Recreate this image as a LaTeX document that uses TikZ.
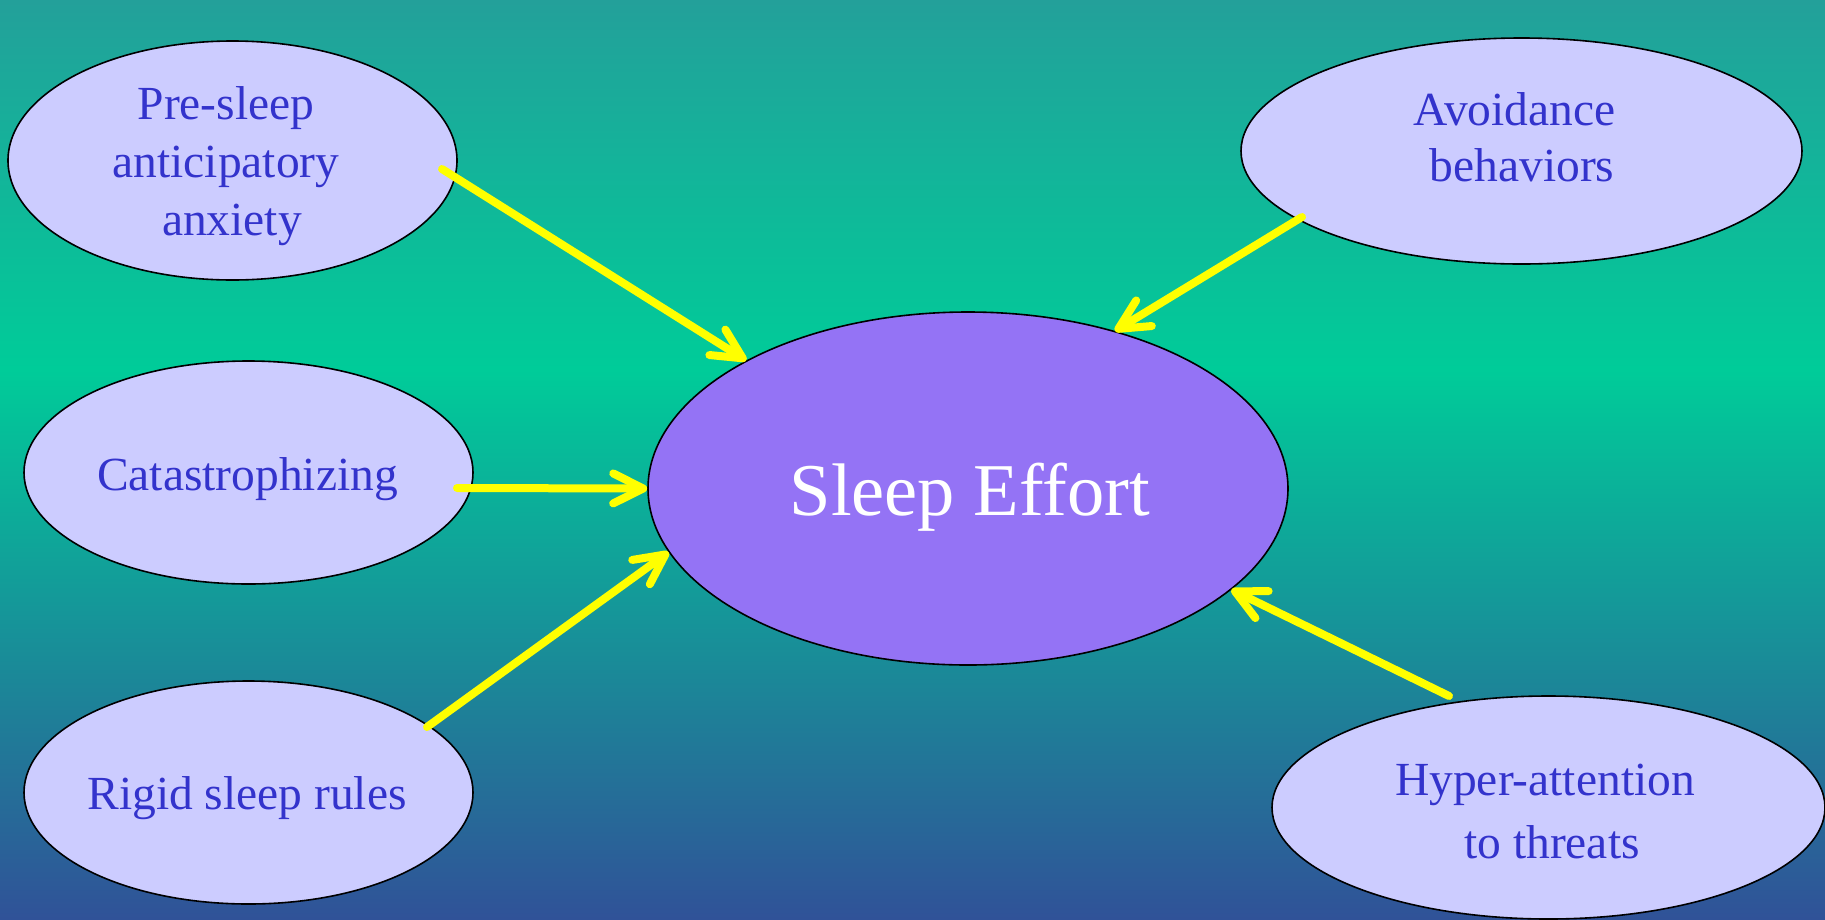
\documentclass[tikz,border=0pt]{standalone}
\usepackage{fontspec}
\newfontfamily\tnr{Liberation Serif}
\usetikzlibrary{shapes.geometric,arrows.meta,calc}
\definecolor{bgtop}{HTML}{23A09A}
\definecolor{bgmid}{HTML}{00CC99}
\definecolor{bgbot}{HTML}{305298}
\definecolor{bubfill}{HTML}{CCCCFF}
\definecolor{bubtext}{HTML}{3333CC}
\definecolor{centerfill}{HTML}{9473F5}
\definecolor{arrowyellow}{HTML}{FFFF00}
\begin{document}
\begin{tikzpicture}[x=1pt,y=-1pt,
  bub/.style={ellipse, draw=black, line width=1.6pt, fill=bubfill, inner sep=0pt, outer sep=0pt},
  lbl/.style={text=bubtext, anchor=base, font=\tnr\fontsize{47.5}{58}\selectfont, inner sep=0pt},
  arr/.style={draw=arrowyellow, line width=8pt, line cap=round,
    -{Straight Barb[length=30pt,width=30pt,round]}}]
\useasboundingbox (0,0) rectangle (1825,919);
\shade[top color=bgtop, bottom color=bgmid] (0,0) rectangle (1825,370);
\shade[top color=bgmid, bottom color=bgbot] (0,369.5) rectangle (1825,919);

% outer bubbles
\node[bub, minimum width=449pt, minimum height=239pt] (pre) at (232.5,160.5) {};
\node[lbl] (pre1) at ($(pre.center)+(-6.5,-41.5)$) {Pre-sleep};
\node[lbl] (pre2) at ($(pre.center)+(-6.5,16.5)$) {anticipatory};
\node[lbl] (pre3) at ($(pre.center)+(-0.5,74.5)$) {anxiety};

\node[bub, minimum width=449pt, minimum height=223pt] (cat) at (248.5,472.5) {};
\node[lbl] (cat1) at ($(cat.center)+(-1,17.5)$) {Catastrophizing};

\node[bub, minimum width=561pt, minimum height=226pt] (avo) at (1521.5,151) {};
\node[lbl] (avo1) at ($(avo.center)+(-7,-26)$) {Avoidance};
\node[lbl] (avo2) at ($(avo.center)+(0.5,30.5)$) {behaviors};

\node[bub, minimum width=449pt, minimum height=223pt] (rig) at (248.5,792.5) {};
\node[lbl] (rig1) at ($(rig.center)+(-1.5,16.5)$) {Rigid sleep rules};

\node[bub, minimum width=553pt, minimum height=223pt] (hyp) at (1548.5,807.5) {};
\node[lbl] (hyp1) at ($(hyp.center)+(-3.5,-12.5)$) {Hyper-attention};
\node[lbl] (hyp2) at ($(hyp.center)+(3.5,50.5)$) {to threats};

% centre
\node[ellipse, draw=black, line width=1.6pt, fill=centerfill, inner sep=0pt,
  minimum width=640pt, minimum height=353pt] (se) at (968,488.5) {};
\node[text=white, anchor=base, font=\tnr\fontsize{74.5}{80}\selectfont, inner sep=0pt] (setext) at ($(se.center)+(2,26.5)$) {Sleep Effort};

% connectors
\coordinate (s1) at ($(pre.center)+(209.5,8.5)$);
\coordinate (s2) at ($(cat.center)+(208.5,15.5)$);
\coordinate (s3) at ($(rig.center)+(178.5,-65.5)$);
\coordinate (s4) at ($(avo.center)+(-219.5,66)$);
\coordinate (s5) at ($(hyp.center)+(-99.5,-111.5)$);
\draw[arr] (s1) -- (se.150.9);
\draw[arr] (s2) -- (se.180);
\draw[arr] (s3) -- (se.192.8);
\draw[arr] (s4) -- (se.47.9);
\draw[arr] (s5) -- (se.339.5);
\end{tikzpicture}
\end{document}
